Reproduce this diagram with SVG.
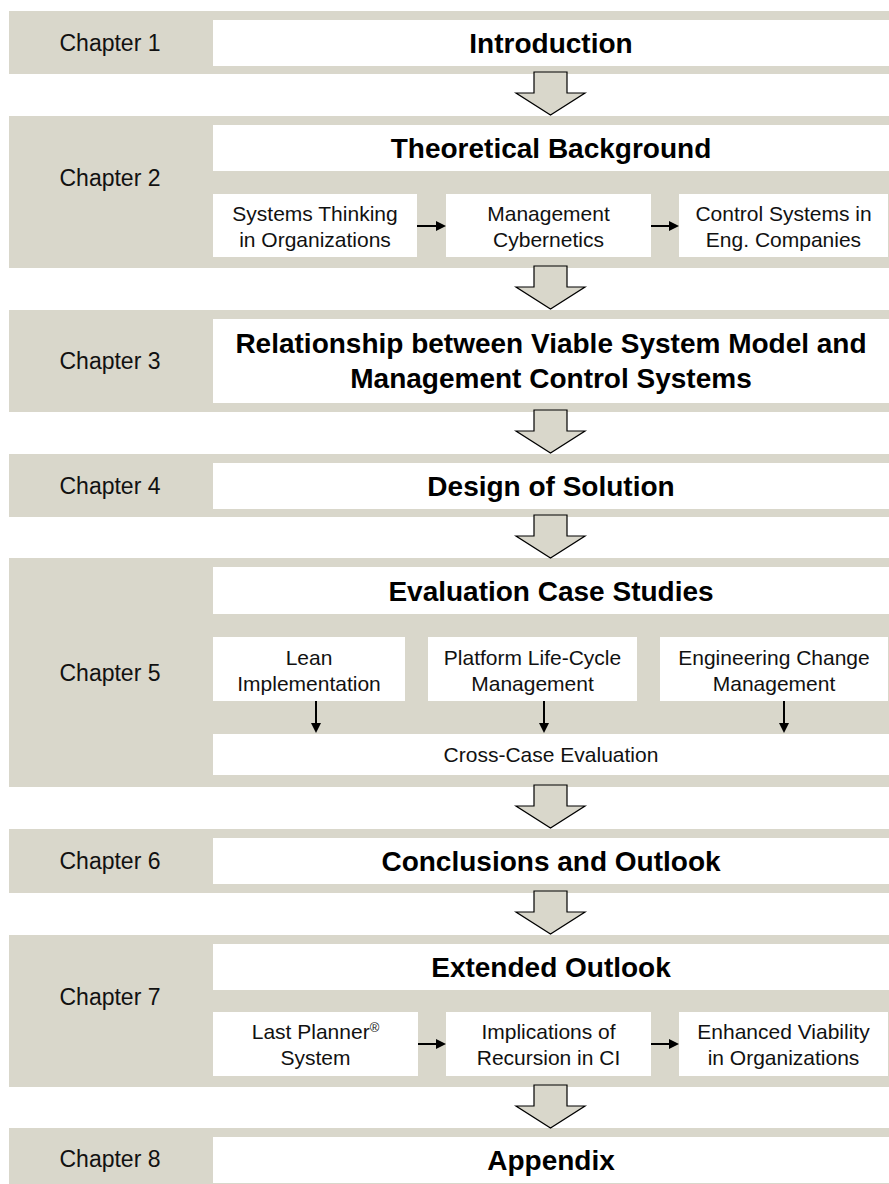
<svg xmlns="http://www.w3.org/2000/svg" width="889" height="1184" viewBox="0 0 889 1184">
<style>
.band{fill:#d9d7cb}
.box{fill:#ffffff}
.chap{font-family:"Liberation Sans",Arial,sans-serif;font-size:23px;fill:#111;text-anchor:middle}
.title{font-family:"Liberation Sans",Arial,sans-serif;font-size:28px;font-weight:bold;fill:#000;text-anchor:middle}
.sub{font-family:"Liberation Sans",Arial,sans-serif;font-size:21px;fill:#111;text-anchor:middle}
.sup{font-size:13px}
.big{fill:#d9d7cb;stroke:#000;stroke-width:1.2;stroke-linejoin:miter}
.small{stroke:#000;stroke-width:2;fill:none}
</style>
<defs>
<marker id="ah" viewBox="0 0 10 10" refX="5" refY="5" markerWidth="10" markerHeight="10" markerUnits="userSpaceOnUse" orient="auto">
<path d="M0,0 L10,5 L0,10 z" fill="#000"/>
</marker>
</defs>
<rect width="889" height="1184" fill="#fff"/>

<g id="chapter1">
<rect class="band" x="9" y="11" width="880" height="63"/>
<text class="chap" x="110" y="51">Chapter 1</text>
<rect class="box" x="213" y="20" width="676" height="46"/>
<text class="title" x="551" y="53">Introduction</text>
</g>

<g id="chapter2">
<rect class="band" x="9" y="116" width="880" height="152"/>
<text class="chap" x="110" y="186">Chapter 2</text>
<rect class="box" x="213" y="125" width="676" height="46"/>
<text class="title" x="551" y="158">Theoretical Background</text>
<g id="systems-thinking">
<rect class="box" x="213" y="194" width="204" height="63"/>
<text class="sub" x="315" y="221">Systems Thinking</text>
<text class="sub" x="315" y="247">in Organizations</text>
</g>
<g id="management-cybernetics">
<rect class="box" x="446" y="194" width="205" height="63"/>
<text class="sub" x="548.5" y="221">Management</text>
<text class="sub" x="548.5" y="247">Cybernetics</text>
</g>
<g id="control-systems">
<rect class="box" x="679" y="194" width="209" height="63"/>
<text class="sub" x="783.5" y="221">Control Systems in</text>
<text class="sub" x="783.5" y="247">Eng. Companies</text>
</g>
</g>

<g id="chapter3">
<rect class="band" x="9" y="310" width="880" height="102"/>
<text class="chap" x="110" y="369">Chapter 3</text>
<rect class="box" x="213" y="319" width="676" height="84"/>
<text class="title" x="551" y="353">Relationship between Viable System Model and</text>
<text class="title" x="551" y="388">Management Control Systems</text>
</g>

<g id="chapter4">
<rect class="band" x="9" y="454" width="880" height="63"/>
<text class="chap" x="110" y="494">Chapter 4</text>
<rect class="box" x="213" y="463" width="676" height="46"/>
<text class="title" x="551" y="496">Design of Solution</text>
</g>

<g id="chapter5">
<rect class="band" x="9" y="558" width="880" height="229"/>
<text class="chap" x="110" y="681">Chapter 5</text>
<rect class="box" x="213" y="567" width="676" height="47"/>
<text class="title" x="551" y="601">Evaluation Case Studies</text>
<g id="lean">
<rect class="box" x="213" y="637" width="192" height="64"/>
<text class="sub" x="309" y="665">Lean</text>
<text class="sub" x="309" y="691">Implementation</text>
</g>
<g id="platform">
<rect class="box" x="428" y="637" width="209" height="64"/>
<text class="sub" x="532.5" y="665">Platform Life-Cycle</text>
<text class="sub" x="532.5" y="691">Management</text>
</g>
<g id="engineering-change">
<rect class="box" x="660" y="637" width="228" height="64"/>
<text class="sub" x="774" y="665">Engineering Change</text>
<text class="sub" x="774" y="691">Management</text>
</g>
<g id="cross-case">
<rect class="box" x="213" y="734" width="676" height="41"/>
<text class="sub" x="551" y="762">Cross-Case Evaluation</text>
</g>
</g>

<g id="chapter6">
<rect class="band" x="9" y="829" width="880" height="64"/>
<text class="chap" x="110" y="869">Chapter 6</text>
<rect class="box" x="213" y="838" width="676" height="46"/>
<text class="title" x="551" y="871">Conclusions and Outlook</text>
</g>

<g id="chapter7">
<rect class="band" x="9" y="935" width="880" height="152"/>
<text class="chap" x="110" y="1005">Chapter 7</text>
<rect class="box" x="213" y="944" width="676" height="46"/>
<text class="title" x="551" y="977">Extended Outlook</text>
<g id="last-planner">
<rect class="box" x="213" y="1012" width="205" height="64"/>
<text class="sub" x="315.5" y="1039">Last Planner<tspan class="sup" dy="-7">®</tspan></text>
<text class="sub" x="315.5" y="1065">System</text>
</g>
<g id="implications">
<rect class="box" x="446" y="1012" width="205" height="64"/>
<text class="sub" x="548.5" y="1039">Implications of</text>
<text class="sub" x="548.5" y="1065">Recursion in CI</text>
</g>
<g id="enhanced-viability">
<rect class="box" x="679" y="1012" width="209" height="64"/>
<text class="sub" x="783.5" y="1039">Enhanced Viability</text>
<text class="sub" x="783.5" y="1065">in Organizations</text>
</g>
</g>

<g id="chapter8">
<rect class="band" x="9" y="1128" width="880" height="56"/>
<text class="chap" x="110" y="1167">Chapter 8</text>
<rect class="box" x="213" y="1137" width="676" height="46"/>
<text class="title" x="551" y="1170">Appendix</text>
</g>

<g id="connectors">
<path class="big" d="M534,72 H567 V93 H585 L550.5,115 L516,93 H534 Z"/>
<path class="big" d="M534,266 H567 V287 H585 L550.5,309 L516,287 H534 Z"/>
<path class="big" d="M534,410 H567 V431 H585 L550.5,453 L516,431 H534 Z"/>
<path class="big" d="M534,515 H567 V536 H585 L550.5,558 L516,536 H534 Z"/>
<path class="big" d="M534,785 H567 V806 H585 L550.5,828 L516,806 H534 Z"/>
<path class="big" d="M534,891 H567 V912 H585 L550.5,934 L516,912 H534 Z"/>
<path class="big" d="M534,1085 H567 V1106 H585 L550.5,1128 L516,1106 H534 Z"/>
<line class="small" x1="417" y1="226" x2="441" y2="226" marker-end="url(#ah)"/>
<line class="small" x1="651" y1="226" x2="674" y2="226" marker-end="url(#ah)"/>
<line class="small" x1="316" y1="701" x2="316" y2="728" marker-end="url(#ah)"/>
<line class="small" x1="544" y1="701" x2="544" y2="728" marker-end="url(#ah)"/>
<line class="small" x1="784" y1="701" x2="784" y2="728" marker-end="url(#ah)"/>
<line class="small" x1="418" y1="1044" x2="441" y2="1044" marker-end="url(#ah)"/>
<line class="small" x1="651" y1="1044" x2="674" y2="1044" marker-end="url(#ah)"/>
</g>
</svg>
